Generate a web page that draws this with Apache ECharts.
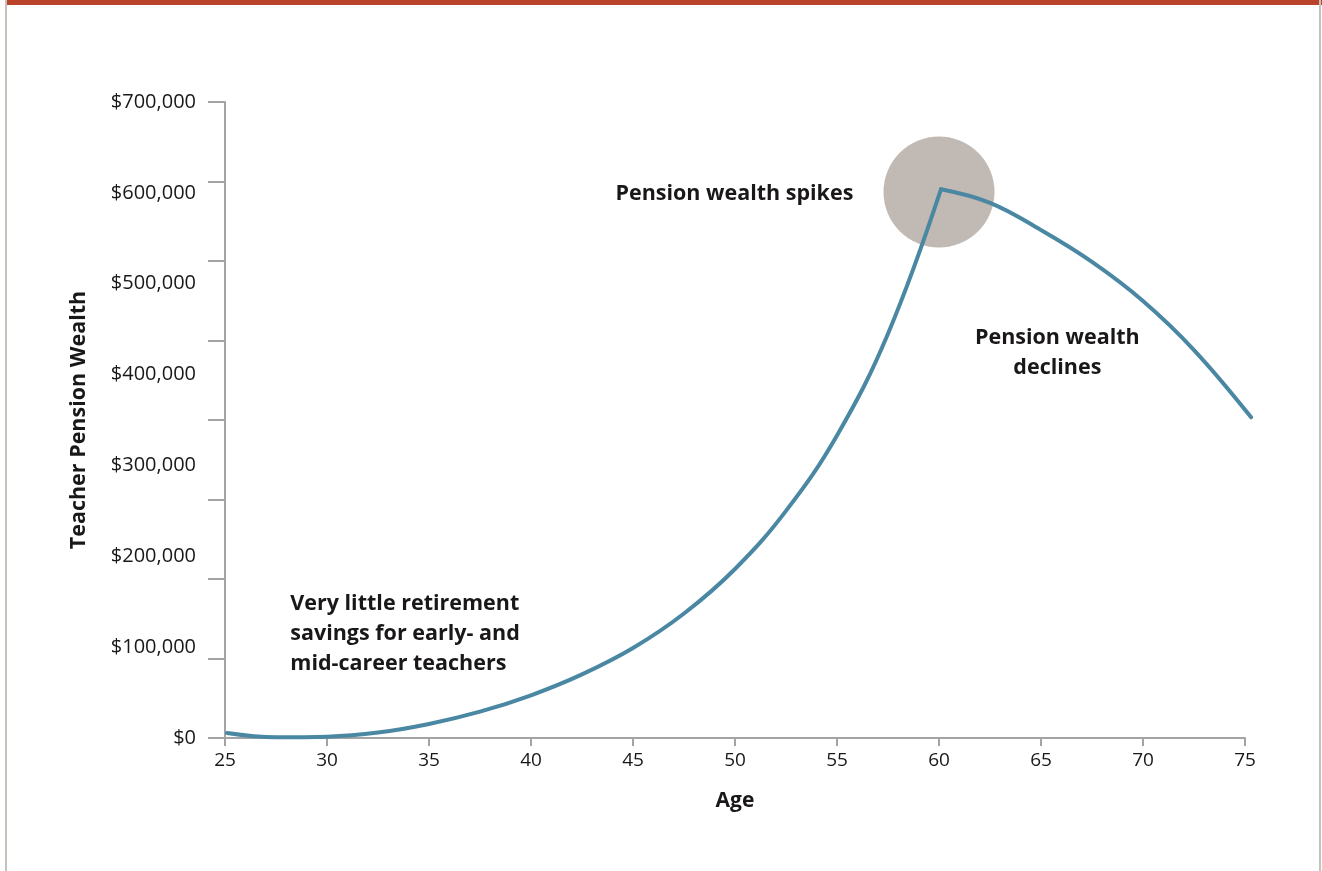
<!DOCTYPE html>
<html>
<head>
<meta charset="utf-8">
<script src="https://cdn.jsdelivr.net/npm/echarts@6/dist/echarts.min.js"></script>
<style>
html,body{margin:0;padding:0;background:#fff;}
#chart{width:1322px;height:871px;}
</style>
</head>
<body>
<div id="chart"></div>
<script>
// ---- data ----
const ageRise = [25.1, 27.5, 30, 32.5, 35, 37.5, 40, 42.5, 45, 47.5, 50, 52.5, 55, 57.5, 60.1];
const wealthRise = [5500, 800, 1500, 6000, 15500, 29000, 47000, 70000, 99000, 137000, 186000, 250000, 333000, 445000, 604000];
const ageDecline = [60.1, 62.5, 65, 67.5, 70, 72.5, 75.3];
const wealthDecline = [604000, 589000, 559000, 524000, 481000, 427000, 353000];
const xTicks = [25, 30, 35, 40, 45, 50, 55, 60, 65, 70, 75];
const yTickLabels = ['$0', '$100,000', '$200,000', '$300,000', '$400,000', '$500,000', '$600,000', '$700,000'];
const highlight = [[60, 601000]];
const notes = [
  {text: 'Pension wealth spikes', at: [55.8, 598500], align: 'right'},
  {text: 'Pension wealth\ndeclines', at: [65.8, 423500], align: 'center'},
  {text: 'Very little retirement\nsavings for early- and\nmid-career teachers', at: [28.2, 115000], align: 'left'}
];

const FONT = '"Open Sans", "Noto Sans", sans-serif';
const TEXT = '#1a1718';
const AXIS = '#a3a3a3';
const LINE = '#4a87a3';
const X_MIN = 25, X_MAX = 75, X_DATA_MAX = 75.3;

const chart = echarts.init(document.getElementById('chart'), null, {renderer: 'canvas'});

function pairs(xs, ys) { return xs.map((x, i) => [x, ys[i]]); }

// grid 0 shows the axes; grid 1 (same scale, slightly wider) holds the data so the
// tail of the curve that runs just past age 75 is not cut off.
const GRID_LEFT = 225, GRID_RIGHT = 77, GRID_TOP = 102, GRID_BOTTOM = 133;
const plotW = 1322 - GRID_LEFT - GRID_RIGHT;
const dataRight = 1322 - GRID_LEFT - plotW * (X_DATA_MAX - X_MIN) / (X_MAX - X_MIN);

const option = {
  animation: false,
  backgroundColor: '#ffffff',
  grid: [
    {left: GRID_LEFT, right: GRID_RIGHT, top: GRID_TOP, bottom: GRID_BOTTOM, containLabel: false},
    {left: GRID_LEFT, right: dataRight, top: GRID_TOP, bottom: GRID_BOTTOM, containLabel: false}
  ],
  xAxis: [
    {
      gridIndex: 0, type: 'value', min: X_MIN, max: X_MAX, interval: 5,
      name: 'Age', nameLocation: 'middle', nameGap: 53,
      nameTextStyle: {fontFamily: FONT, fontWeight: 'bold', fontSize: 21, color: TEXT},
      axisLine: {show: true, onZero: false, lineStyle: {color: AXIS, width: 2}},
      axisTick: {show: true, length: 8, lineStyle: {color: AXIS, width: 2}},
      axisLabel: {fontFamily: FONT, fontSize: 19, color: TEXT, margin: 13,
        formatter: v => xTicks.indexOf(v) >= 0 ? String(v) : ''},
      splitLine: {show: false}
    },
    {
      gridIndex: 1, type: 'value', min: X_MIN, max: X_DATA_MAX, show: false
    }
  ],
  yAxis: [
    {
      gridIndex: 0, type: 'value', position: 'left', min: 0, max: 700000, interval: 100000,
      name: 'Teacher Pension Wealth', nameLocation: 'middle', nameGap: 135, nameRotate: 90,
      nameTextStyle: {fontFamily: FONT, fontWeight: 'bold', fontSize: 21.5, color: TEXT},
      axisLine: {show: false},
      axisTick: {show: false},
      axisLabel: {fontFamily: FONT, fontSize: 20, color: TEXT, margin: 29,
        formatter: v => yTickLabels[Math.round(v / 100000)]},
      splitLine: {show: false}
    },
    {
      gridIndex: 0, type: 'value', position: 'left', min: 0, max: 700000, interval: 87500,
      axisLine: {show: true, lineStyle: {color: AXIS, width: 2}},
      axisTick: {show: true, length: 17, lineStyle: {color: AXIS, width: 2}},
      axisLabel: {show: false},
      splitLine: {show: false}
    },
    {
      gridIndex: 1, type: 'value', min: 0, max: 700000, show: false
    }
  ],
  series: [
    {
      type: 'scatter', xAxisIndex: 1, yAxisIndex: 2, data: highlight, symbol: 'circle', symbolSize: 111,
      itemStyle: {color: '#c0b9b4', opacity: 1}, z: 1, silent: true, clip: false
    },
    {
      type: 'line', xAxisIndex: 1, yAxisIndex: 2, data: pairs(ageRise, wealthRise),
      smooth: 0.4, smoothConstraint: false,
      showSymbol: false, symbol: 'none', clip: false, z: 3,
      lineStyle: {color: LINE, width: 4, cap: 'round', join: 'miter'}
    },
    {
      type: 'line', xAxisIndex: 1, yAxisIndex: 2, data: pairs(ageDecline, wealthDecline),
      smooth: 0.4, smoothConstraint: false,
      showSymbol: false, symbol: 'none', clip: false, z: 3,
      lineStyle: {color: LINE, width: 4, cap: 'round', join: 'miter'}
    },
    {
      type: 'scatter', xAxisIndex: 1, yAxisIndex: 2, symbolSize: 0, silent: true, clip: false, z: 4,
      itemStyle: {opacity: 1},
      data: notes.map(n => ({
        value: n.at,
        label: {
          show: true, position: 'inside', formatter: n.text, align: n.align,
          verticalAlign: 'middle', fontFamily: FONT, fontWeight: 'bold',
          fontSize: 21.5, lineHeight: 30, color: TEXT, opacity: 1
        }
      }))
    }
  ],
  graphic: [
    {type: 'rect', left: 5, top: 0, shape: {width: 1317, height: 5}, style: {fill: '#b8432a'}, z: 100},
    {type: 'rect', left: 5, top: 0, shape: {width: 2, height: 871}, style: {fill: '#c8c0bb'}, z: 100},
    {type: 'rect', left: 1319, top: 0, shape: {width: 2, height: 871}, style: {fill: '#c8c0bb'}, z: 100}
  ]
};
chart.setOption(option);
</script>
</body>
</html>
